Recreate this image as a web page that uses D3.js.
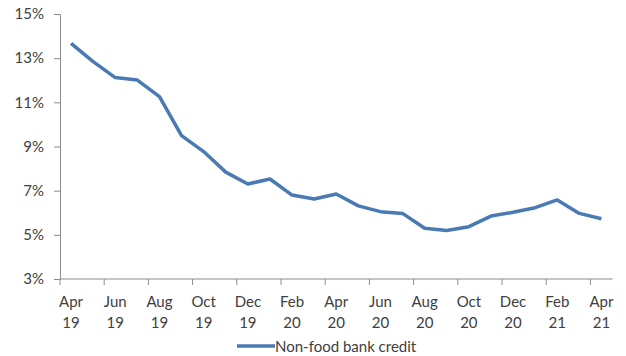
<!DOCTYPE html>
<html>
<head>
<meta charset="utf-8">
<script src="https://cdn.jsdelivr.net/npm/d3@7"></script>
<style>
  html, body { margin: 0; padding: 0; background: #fff; }
  svg { display: block; }
  text { font-family: Lato, "Open Sans", sans-serif; fill: #404040; }
</style>
</head>
<body>
<svg id="chart" width="626" height="356"></svg>
<script>
// Monthly categories, Apr 2019 – Apr 2021
const months = [
  "Apr 19","May 19","Jun 19","Jul 19","Aug 19","Sep 19","Oct 19","Nov 19","Dec 19",
  "Jan 20","Feb 20","Mar 20","Apr 20","May 20","Jun 20","Jul 20","Aug 20","Sep 20",
  "Oct 20","Nov 20","Dec 20","Jan 21","Feb 21","Mar 21","Apr 21"
];
// Year-on-year growth of non-food bank credit, %
const credit = [
  13.67, 12.84, 12.12, 12.01, 11.26, 9.49, 8.77, 7.84, 7.30,
  7.53, 6.80, 6.62, 6.85, 6.31, 6.05, 5.97, 5.30, 5.20,
  5.37, 5.85, 6.02, 6.23, 6.58, 5.97, 5.73
];
const yTicks = [3, 5, 7, 9, 11, 13, 15];
const seriesName = "Non-food bank credit";

const svg = d3.select("#chart");
const plotLeft = 60, plotRight = 612.5, plotTop = 14, plotBottom = 279;
const fontSize = 15;

const x = d3.scaleBand().domain(months).range([plotLeft, plotRight]).paddingInner(0).paddingOuter(0);
const y = d3.scaleLinear().domain([3, 15]).range([plotBottom, plotTop]);

const axisColor = "#8c8c8c";
const lineColor = "#4a7ab4";

// Y axis
const yAxis = svg.append("g").attr("transform", `translate(${plotLeft},0)`)
  .call(d3.axisLeft(y).tickValues(yTicks).tickSize(6).tickPadding(10)
    .tickFormat(d => d + "%"));
yAxis.select(".domain").attr("stroke", axisColor);
yAxis.selectAll(".tick line").attr("stroke", axisColor);
yAxis.selectAll(".tick text").attr("font-size", fontSize).attr("fill", "#404040")
  .style("font-family", "Lato, 'Open Sans', sans-serif");

// X axis: ticks on category boundaries every two months, labels centred in the first month
const xAxis = svg.append("g");
xAxis.append("line")
  .attr("x1", plotLeft).attr("x2", plotRight).attr("y1", plotBottom).attr("y2", plotBottom)
  .attr("stroke", axisColor);
const shown = months.filter((m, i) => i % 2 === 0);
xAxis.selectAll("line.tick").data(shown).join("line")
  .attr("class", "tick")
  .attr("x1", d => x(d)).attr("x2", d => x(d))
  .attr("y1", plotBottom).attr("y2", plotBottom + 6)
  .attr("stroke", axisColor);
const lbl = xAxis.selectAll("text").data(shown).join("text")
  .attr("text-anchor", "middle")
  .attr("font-size", fontSize)
  .attr("transform", d => `translate(${x(d) + x.bandwidth() / 2},0)`);
lbl.append("tspan").attr("x", 0).attr("y", 307).text(d => d.split(" ")[0]);
lbl.append("tspan").attr("x", 0).attr("y", 328).text(d => d.split(" ")[1]);

// Series line
const line = d3.line()
  .x((d, i) => x(months[i]) + x.bandwidth() / 2)
  .y(d => y(d));
svg.append("path").datum(credit)
  .attr("fill", "none")
  .attr("stroke", lineColor)
  .attr("stroke-width", 3.5)
  .attr("stroke-linejoin", "round")
  .attr("d", line);

// Legend
const lg = svg.append("g").attr("transform", "translate(237,346)");
lg.append("line").attr("x1", 0).attr("x2", 38).attr("y1", 0).attr("y2", 0)
  .attr("stroke", lineColor).attr("stroke-width", 3.5);
lg.append("text").attr("x", 38).attr("y", 6).attr("font-size", fontSize).text(seriesName);
</script>
</body>
</html>
